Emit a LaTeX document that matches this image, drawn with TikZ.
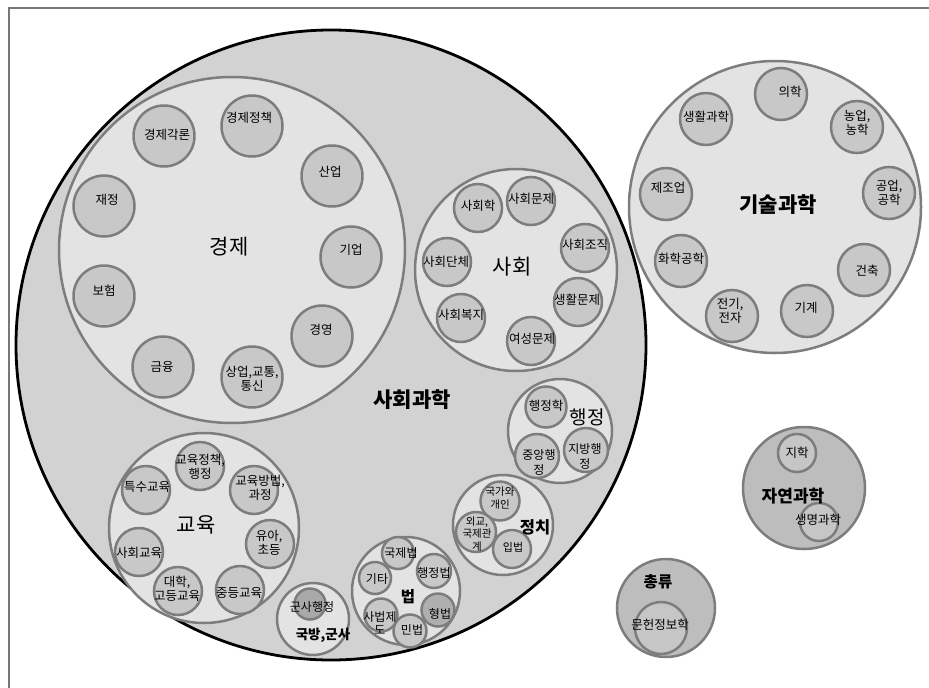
\documentclass[tikz,border=0pt]{standalone}
\usepackage{fontspec}
\setmainfont{Noto Sans CJK KR}
\definecolor{framegray}{HTML}{777777}
\definecolor{strokegray}{HTML}{7D7D7D}
\definecolor{bigfill}{HTML}{D2D2D2}
\definecolor{midfill}{HTML}{E3E3E3}
\definecolor{leaffill}{HTML}{C8C8C8}
\definecolor{darkfill}{HTML}{A9A9A9}
\definecolor{natfill}{HTML}{BDBDBD}
\definecolor{natinner}{HTML}{C6C6C6}
\tikzset{
  frameline/.style={draw=framegray, line width=2.5pt},
  bigc/.style={circle, draw=black, line width=2.8pt, fill=bigfill, inner sep=0pt},
  midc/.style={circle, draw=strokegray, line width=2.5pt, fill=midfill, inner sep=0pt},
  leafc/.style={circle, draw=strokegray, line width=2.5pt, fill=leaffill, inner sep=0pt},
  darkc/.style={leafc, fill=darkfill},
  natc/.style={midc, fill=natfill},
  natleaf/.style={leafc, fill=natinner},
  lbl/.style={inner sep=0pt, align=center, font=\fontsize{12.5}{14.5}\selectfont},
  slbl/.style={inner sep=0pt, align=center, font=\fontsize{10.5}{12.5}\selectfont},
  biglbl/.style={inner sep=0pt, font=\fontsize{21}{24}\selectfont},
  boldlbl/.style={inner sep=0pt, font=\fontsize{#1}{#1}\selectfont\bfseries},
}
\begin{document}
\begin{tikzpicture}[x=1pt,y=-1pt]
\useasboundingbox (0,0) rectangle (929,688);
% frame
\coordinate (fbl) at (9,700);
\coordinate (ftl) at (9,8);
\coordinate (ftr) at (940,8);
\draw[frameline] (fbl) -- (ftl) -- (ftr);

% ===== 사회과학 =====
\node[bigc, minimum size=630] (soc) at (331,345) {};
\node[midc, minimum size=346] (econ) at (232,250) {};
\node[midc, minimum size=202] (society) at (516,270) {};
\node[midc, minimum size=104] (adm) at (560,431) {};
\node[midc, minimum size=100] (pol) at (503,525) {};
\node[midc, minimum size=108] (law) at (406,591) {};
\node[midc, minimum size=72] (mil) at (313,619) {};
\node[midc, minimum size=190] (edu) at (204,528) {};

% 경제 leaves
\node[leafc, minimum size=61] (e1) at (164,136) {};
\node[leafc, minimum size=61] (e2) at (252,126) {};
\node[leafc, minimum size=61] (e3) at (332,176) {};
\node[leafc, minimum size=61] (e4) at (104,206) {};
\node[leafc, minimum size=61] (e5) at (351,257) {};
\node[leafc, minimum size=61] (e6) at (104,296) {};
\node[leafc, minimum size=61] (e7) at (322,336) {};
\node[leafc, minimum size=61] (e8) at (163,367) {};
\node[leafc, minimum size=61] (e9) at (252,377) {};
\node[lbl] (le1) at (167,135) {경제각론};
\node[lbl] (le2) at (249,118) {경제정책};
\node[lbl] (le3) at (330,172) {산업};
\node[lbl] (le4) at (107,200) {재정};
\node[lbl] (le5) at (351,250) {기업};
\node[lbl] (le6) at (104,291) {보험};
\node[lbl] (le7) at (321,330) {경영};
\node[lbl] (le8) at (162,367) {금융};
\node[lbl] (le9) at (252,379) {상업,교통,\\통신};
\node[biglbl] (lecon) at (229,247) {경제};

% 사회 leaves
\node[leafc, minimum size=48] (s1) at (478,208) {};
\node[leafc, minimum size=48] (s2) at (531,201) {};
\node[leafc, minimum size=48] (s3) at (585,248) {};
\node[leafc, minimum size=48] (s4) at (447,262) {};
\node[leafc, minimum size=48] (s5) at (578,302) {};
\node[leafc, minimum size=48] (s6) at (461,318) {};
\node[leafc, minimum size=48] (s7) at (531,341) {};
\node[lbl] (ls1) at (478,206) {사회학};
\node[lbl] (ls2) at (531,199) {사회문제};
\node[lbl] (ls3) at (585,245) {사회조직};
\node[lbl] (ls4) at (446,262) {사회단체};
\node[lbl] (ls5) at (577,300) {생활문제};
\node[lbl] (ls6) at (461,315) {사회복지};
\node[lbl] (ls7) at (532,339) {여성문제};
\node[biglbl] (lsoc) at (512,267) {사회};

% 행정
\node[leafc, minimum size=41] (a1) at (546,407) {};
\node[leafc, minimum size=44] (a2) at (537,456) {};
\node[leafc, minimum size=44] (a3) at (586,450) {};
\node[lbl] (la1) at (546,406) {행정학};
\node[lbl, font=\fontsize{12}{15}\selectfont] (la2) at (539,462) {중앙행\\정};
\node[lbl, font=\fontsize{12}{15}\selectfont] (la3) at (585,456) {지방행\\정};
\node[inner sep=0pt, font=\fontsize{19}{21}\selectfont] (ladm) at (587,417) {행정};

% 정치
\node[leafc, minimum size=39] (p1) at (500,501) {};
\node[leafc, minimum size=40] (p2) at (476,532) {};
\node[leafc, minimum size=38] (p3) at (512,549) {};
\node[slbl] (lp1) at (500,498) {국가와\\개인};
\node[slbl] (lp2) at (477,534) {외교,\\국제관\\계};
\node[slbl, font=\fontsize{11}{13}\selectfont] (lp3) at (513,547) {입법};
\node[boldlbl=16.5] (lpol) at (535,527) {정치};

% 법
\node[leafc, minimum size=32] (w1) at (398,553) {};
\node[leafc, minimum size=34] (w2) at (434,571) {};
\node[leafc, minimum size=32] (w3) at (375,578) {};
\node[darkc, minimum size=33, fill=darkfill!80!leaffill] (w4) at (438,610) {};
\node[leafc, minimum size=33] (w5) at (381,615) {};
\node[leafc, minimum size=33] (w6) at (410,631) {};
\node[lbl, font=\fontsize{12}{14}\selectfont] (lw1) at (401,553) {국제법};
\node[lbl, font=\fontsize{12}{14}\selectfont] (lw2) at (434,573) {행정법};
\node[lbl, font=\fontsize{12}{14}\selectfont] (lw3) at (377,579) {기타};
\node[lbl, font=\fontsize{12}{14}\selectfont] (lw4) at (440,614) {형법};
\node[lbl, font=\fontsize{12}{13}\selectfont] (lw5) at (380,623) {사법제\\도};
\node[lbl, font=\fontsize{12}{14}\selectfont] (lw6) at (412,630) {민법};
\node[boldlbl=15.5] (llaw) at (408,597) {법};

% 국방,군사
\node[darkc, minimum size=31] (m1) at (310,604) {};
\node[lbl, font=\fontsize{12}{14}\selectfont] (lm1) at (312,607) {군사행정};
\node[boldlbl=13.5] (lmil) at (323,635) {국방,군사};

% 교육
\node[leafc, minimum size=48] (d1) at (200,466) {};
\node[leafc, minimum size=48] (d2) at (146,490) {};
\node[leafc, minimum size=48] (d3) at (254,490) {};
\node[leafc, minimum size=48] (d4) at (270,544) {};
\node[leafc, minimum size=48] (d5) at (139,552) {};
\node[leafc, minimum size=48] (d6) at (178,591) {};
\node[leafc, minimum size=48] (d7) at (240,590) {};
\node[lbl] (ld1) at (200,467) {교육정책,\\행정};
\node[lbl] (ld2) at (147,487) {특수교육};
\node[lbl] (ld3) at (260,488) {교육방법,\\과정};
\node[lbl] (ld4) at (269,543) {유아,\\초등};
\node[lbl] (ld5) at (139,553) {사회교육};
\node[lbl] (ld6) at (177,589) {대학,\\고등교육};
\node[lbl] (ld7) at (239,593) {중등교육};
\node[biglbl] (ledu) at (196,525) {교육};

\node[boldlbl=21] (lsocsci) at (412,400) {사회과학};

% ===== 기술과학 =====
\node[midc, minimum size=292] (tech) at (775,207) {};
\node[leafc, minimum size=52] (t1) at (781,94) {};
\node[leafc, minimum size=52] (t2) at (857,127) {};
\node[leafc, minimum size=52] (t3) at (706,119) {};
\node[leafc, minimum size=52] (t4) at (666,194) {};
\node[leafc, minimum size=52] (t5) at (889,193) {};
\node[leafc, minimum size=52] (t6) at (681,261) {};
\node[leafc, minimum size=52] (t7) at (864,270) {};
\node[leafc, minimum size=52] (t8) at (732,316) {};
\node[leafc, minimum size=52] (t9) at (807,311) {};
\node[lbl] (lt1) at (790,92) {의학};
\node[lbl] (lt2) at (857,123) {농업,\\농학};
\node[lbl] (lt3) at (706,117) {생활과학};
\node[lbl] (lt4) at (668,188) {제조업};
\node[lbl] (lt5) at (889,193) {공업,\\공학};
\node[lbl] (lt6) at (681,259) {화학공학};
\node[lbl] (lt7) at (867,271) {건축};
\node[lbl] (lt8) at (730,311) {전기,\\전자};
\node[lbl] (lt9) at (806,308) {기계};
\node[boldlbl=21] (ltech) at (778,205) {기술과학};

% ===== 자연과학 =====
\node[natc, minimum size=122] (nat) at (804,488) {};
\node[natleaf, minimum size=38] (n1) at (797,453) {};
\node[natleaf, minimum size=38] (n2) at (819,522) {};
\node[lbl] (ln1) at (797,453) {지학};
\node[lbl] (ln2) at (818,520) {생명과학};
\node[boldlbl=17] (lnat) at (793,496) {자연과학};

% ===== 총류 =====
\node[natc, minimum size=98] (gen) at (666,608) {};
\node[natleaf, minimum size=52] (g1) at (661,628) {};
\node[lbl] (lg1) at (660,625) {문헌정보학};
\node[boldlbl=15.5] (lgen) at (658,582) {총류};
\end{tikzpicture}
\end{document}
